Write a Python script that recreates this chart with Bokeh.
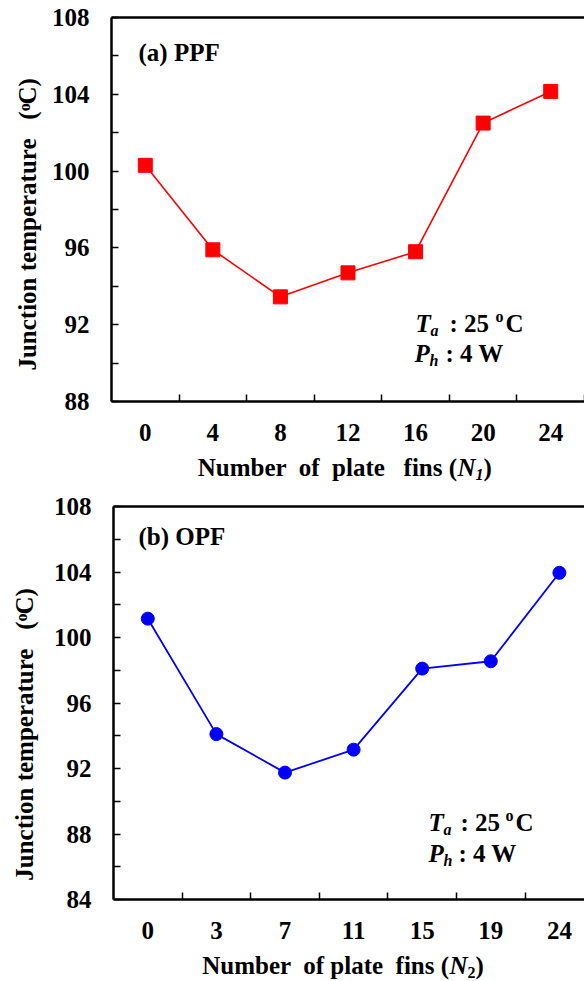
import math
from bokeh.plotting import figure
from bokeh.models import Range1d, FixedTicker, LinearAxis, Label
from bokeh.layouts import column, row
from bokeh.embed import file_html
from bokeh.resources import INLINE

# ---- data ----
fins_a = ["0", "4", "8", "12", "16", "20", "24"]
temp_a = [100.3, 95.9, 93.45, 94.7, 95.8, 102.5, 104.15]
yticks_a = [88, 92, 96, 100, 104, 108]

fins_b = ["0", "3", "7", "11", "15", "19", "24"]
temp_b = [101.15, 94.1, 91.75, 93.15, 98.1, 98.55, 103.95]
yticks_b = [84, 88, 92, 96, 100, 104, 108]

FONT = "Liberation Serif"
K = 0.36  # baseline correction (fraction of font size)


def label(p, text, x, y, size, style="bold", align="left", angle=0.0, dx=0, dy=0):
    text = text.replace("  ", " \u00a0")
    if angle == 0.0:
        dy = dy + K * size
    else:
        dx = dx - K * size
    p.add_layout(Label(x=x, y=y, x_offset=dx, y_offset=dy,
                       text=text, text_font=FONT, text_font_size=f"{size}px",
                       text_font_style=style, text_align=align,
                       text_baseline="alphabetic", angle=angle, text_color="black"))


def text_fig(width, height):
    """Blank figure whose frame is the whole canvas, used for the axis titles."""
    f = figure(width=width, height=height, x_range=Range1d(0, width),
               y_range=Range1d(0, height), output_backend="svg", toolbar_location=None,
               x_axis_location=None, y_axis_location=None, min_border=0)
    f.grid.visible = False
    f.outline_line_color = None
    f.border_fill_color = "white"
    f.background_fill_color = "white"
    return f


def make_panel(cats, vals, yticks, width, height, left, top, bottom, x_end):
    idx = list(range(len(cats)))
    p = figure(width=width, height=height,
               x_range=Range1d(-0.5, x_end), y_range=Range1d(yticks[0], yticks[-1]),
               output_backend="svg", toolbar_location=None,
               min_border_left=left, min_border_right=0,
               min_border_top=top, min_border_bottom=bottom)
    p.grid.visible = False
    p.outline_line_color = None
    p.background_fill_color = "white"
    p.border_fill_color = "white"

    xa = p.xaxis[0]
    xa.ticker = FixedTicker(ticks=idx, minor_ticks=[i + 0.5 for i in idx])
    xa.major_label_overrides = {i: c for i, c in zip(idx, cats)}
    xa.major_tick_in = 0
    xa.major_tick_out = 0
    xa.minor_tick_in = 7
    xa.minor_tick_out = 0
    xa.minor_tick_line_width = 1.5
    xa.minor_tick_line_color = "black"
    xa.axis_line_width = 2.5
    xa.axis_line_color = "black"
    xa.major_label_text_font = FONT
    xa.major_label_text_font_style = "bold"
    xa.major_label_text_font_size = "25px"
    xa.major_label_text_color = "black"
    xa.major_label_standoff = 22

    ya = p.yaxis[0]
    ya.ticker = FixedTicker(ticks=yticks,
                            minor_ticks=[(a + b) / 2 for a, b in zip(yticks, yticks[1:])])
    ya.major_tick_in = 7
    ya.major_tick_out = 0
    ya.minor_tick_in = 7
    ya.minor_tick_out = 0
    ya.major_tick_line_width = 1.5
    ya.minor_tick_line_width = 1.5
    ya.major_tick_line_color = "black"
    ya.minor_tick_line_color = "black"
    ya.axis_line_width = 2.5
    ya.axis_line_color = "black"
    ya.major_label_text_font = FONT
    ya.major_label_text_font_style = "bold"
    ya.major_label_text_font_size = "25px"
    ya.major_label_text_color = "black"
    ya.major_label_standoff = 22

    top_axis = LinearAxis(ticker=FixedTicker(ticks=[]), major_label_text_font_size="0px",
                          major_tick_in=0, major_tick_out=0, minor_tick_in=0,
                          minor_tick_out=0, major_label_standoff=0,
                          axis_line_width=2.5, axis_line_color="black")
    p.add_layout(top_axis, "above")
    return p, idx


TW = 45  # width of the y-title strip

# ---------- panel (a) ----------
pa, xa_idx = make_panel(fins_a, temp_a, yticks_a, 584 - TW, 450, 66, 17, 49, 6.5)
pa.line(xa_idx, temp_a, line_color="#FF0000", line_width=1.6)
pa.scatter(xa_idx, temp_a, marker="square", size=14, fill_color="#FF0000",
           line_color="#FF0000")
x0, y0 = pa.x_range.start, pa.y_range.start
label(pa, "(a) PPF", x0, y0, 25, dx=27, dy=340)
label(pa, "T", x0, y0, 25, "bold italic", dx=304, dy=69)
label(pa, "a", x0, y0, 16, "bold italic", dx=319, dy=65)
label(pa, ": 25", x0, y0, 25, dx=338, dy=69)
label(pa, "o", x0, y0, 16, dx=384, dy=79)
label(pa, "C", x0, y0, 25, dx=394, dy=69)
label(pa, "P", x0, y0, 25, "bold italic", dx=303, dy=39)
label(pa, "h", x0, y0, 16, "bold italic", dx=318, dy=35)
label(pa, ": 4 W", x0, y0, 25, dx=334, dy=39)

yt_a = text_fig(TW, 450)
label(yt_a, "Junction temperature   (", 36, 340, 25, align="right", angle=math.pi / 2)
label(yt_a, "o", 30, 340, 16, angle=math.pi / 2)
label(yt_a, "C)", 36, 348, 25, angle=math.pi / 2)

xt_a = text_fig(584, 40)
label(xt_a, "Number  of  plate   fins (", 457, 14, 25, align="right")
label(xt_a, "N", 457, 14, 25, "bold italic")
label(xt_a, "1", 475, 10, 16, "bold italic")
label(xt_a, ")", 483, 14, 25)

# ---------- panel (b) ----------
pb, xb_idx = make_panel(fins_b, temp_b, yticks_b, 584 - TW, 458, 68, 16, 49, 6.366)
pb.line(xb_idx, temp_b, line_color="#0000FF", line_width=1.8)
pb.scatter(xb_idx, temp_b, marker="circle", size=13, fill_color="#0000FF",
           line_color="#0000FF")
x0, y0 = pb.x_range.start, pb.y_range.start
label(pb, "(b) OPF", x0, y0, 25, dx=25, dy=354)
label(pb, "T", x0, y0, 25, "bold italic", dx=315, dy=68)
label(pb, "a", x0, y0, 16, "bold italic", dx=330, dy=64)
label(pb, ": 25", x0, y0, 25, dx=347, dy=68)
label(pb, "o", x0, y0, 16, dx=392, dy=78)
label(pb, "C", x0, y0, 25, dx=402, dy=68)
label(pb, "P", x0, y0, 25, "bold italic", dx=315, dy=37)
label(pb, "h", x0, y0, 16, "bold italic", dx=330, dy=33)
label(pb, ": 4 W", x0, y0, 25, dx=345, dy=37)

yt_b = text_fig(TW, 458)
label(yt_b, "Junction temperature   (", 33, 324, 25, align="right", angle=math.pi / 2)
label(yt_b, "o", 27, 324, 16, angle=math.pi / 2)
label(yt_b, "C)", 33, 332, 25, angle=math.pi / 2)

xt_b = text_fig(584, 33)
label(xt_b, "Number  of plate  fins (", 449, 7, 25, align="right")
label(xt_b, "N", 449, 7, 25, "bold italic")
label(xt_b, "2", 467, 3, 16)
label(xt_b, ")", 475, 7, 25)

layout = column(row(yt_a, pa, spacing=0), xt_a, row(yt_b, pb, spacing=0), xt_b, spacing=0)
open("out.html", "w").write(file_html(layout, INLINE))
